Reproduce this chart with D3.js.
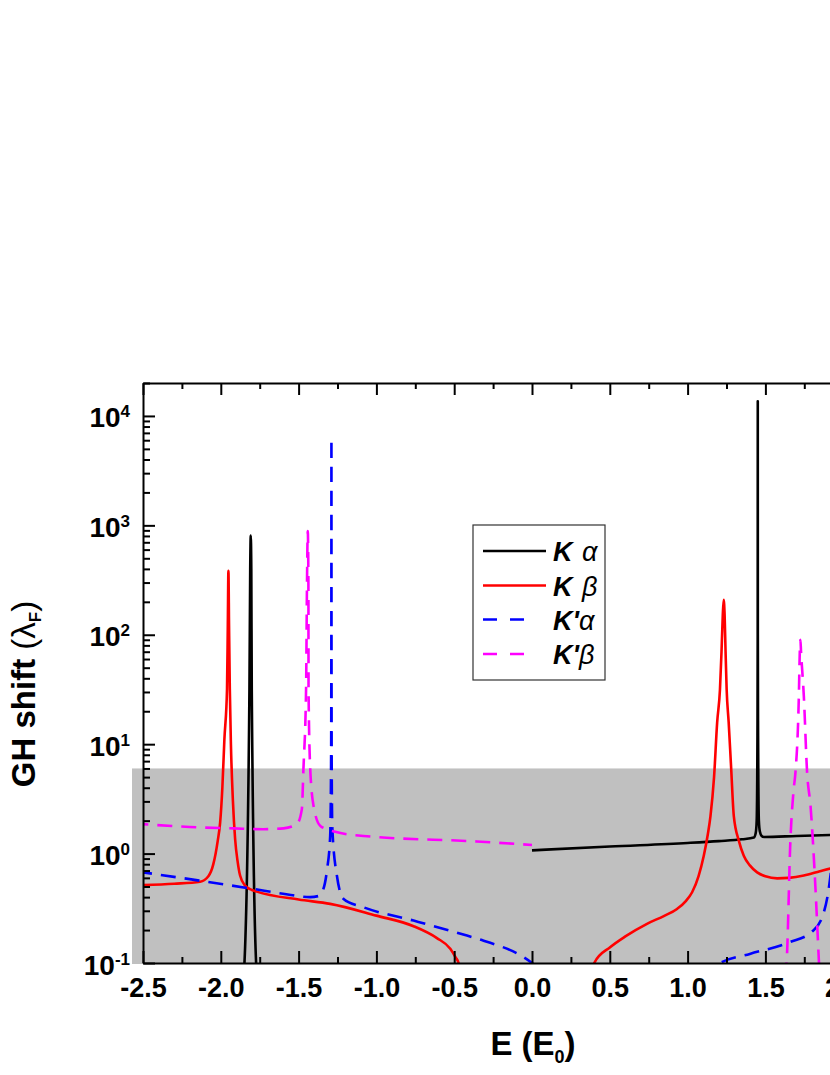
<!DOCTYPE html>
<html>
<head>
<meta charset="utf-8">
<script src="https://cdn.jsdelivr.net/npm/d3@7"></script>
<style>
	body { margin: 0; background: #fff; }
	svg { display: block; font-family: "Liberation Sans", Arial, sans-serif; }
</style>
</head>
<body>
<div id="chart"></div>
<script>
// GH shift vs energy. [E, shift], null = gap in the curve
const kAlpha = [
	[-1.852, 0.08], [-1.848, 0.1], [-1.816, 31.6], [-1.811, 400], [-1.8075, 805], [-1.804, 400], [-1.801, 31.6], [-1.773, 0.1], [-1.769, 0.08],
	null,
	[0, 1.07], [0.5, 1.16], [1.0, 1.25], [1.2, 1.3], [1.35, 1.35], [1.426, 1.4], [1.438, 1.55], [1.444, 2], [1.447, 4], [1.449, 12],
	[1.4505, 100], [1.451, 13600], [1.4515, 100], [1.453, 12], [1.455, 4], [1.458, 2], [1.464, 1.6], [1.476, 1.45], [1.49, 1.42],
	[1.7, 1.45], [1.92, 1.48], [2.1, 1.5]
];
const kBeta = [
	[-2.5, 0.515], [-2.3, 0.53], [-2.133, 0.553], [-2.08, 0.62], [-2.048, 0.8], [-2.02, 1.3], [-2.004, 1.94], [-1.99, 4], [-1.977, 11],
	[-1.96, 32], [-1.955, 120], [-1.951, 384], [-1.947, 120], [-1.942, 32], [-1.935, 10], [-1.922, 3], [-1.908, 1.36], [-1.892, 0.85],
	[-1.876, 0.63], [-1.844, 0.51], [-1.8, 0.465], [-1.769, 0.449], [-1.5, 0.38], [-1.297, 0.347], [-1.0, 0.271], [-0.761, 0.217],
	[-0.611, 0.169], [-0.525, 0.135], [-0.49, 0.112], [-0.472, 0.1], [-0.465, 0.09],
	null,
	[0.395, 0.095], [0.4, 0.1], [0.504, 0.14], [0.6, 0.175], [0.739, 0.228], [0.85, 0.27], [0.932, 0.312], [0.99, 0.37], [1.029, 0.443],
	[1.07, 0.62], [1.104, 0.955], [1.13, 1.5], [1.147, 2.2], [1.17, 5], [1.19, 15.8], [1.208, 31.6], [1.218, 70], [1.226, 150],
	[1.232, 209], [1.238, 150], [1.244, 70], [1.251, 31.6], [1.264, 15.8], [1.28, 6], [1.297, 2.2], [1.33, 1.3], [1.361, 0.955],
	[1.4, 0.78], [1.447, 0.674], [1.5, 0.62], [1.576, 0.594], [1.65, 0.6], [1.747, 0.63], [1.85, 0.69], [1.92, 0.733], [2.0, 0.78]
];
const kpAlpha = [
	[-2.5, 0.674], [-2.133, 0.565], [-1.79, 0.475], [-1.6, 0.43], [-1.426, 0.4], [-1.37, 0.41], [-1.35, 0.44], [-1.318, 0.7],
	[-1.297, 1.45], [-1.291, 7.9], [-1.2895, 100], [-1.289, 6220], [-1.2885, 100], [-1.287, 5], [-1.283, 1.67], [-1.254, 0.63],
	[-1.211, 0.385], [-1.083, 0.323], [-0.761, 0.244], [-0.418, 0.178], [-0.311, 0.16], [-0.054, 0.113], [0, 0.1], [0.02, 0.095],
	null,
	[1.205, 0.095], [1.211, 0.1], [1.4, 0.121], [1.657, 0.155], [1.8, 0.194], [1.865, 0.262], [1.907, 0.475], [1.925, 0.75], [1.95, 1.3]
];
const kpBeta = [
	[-2.5, 1.86], [-2.2, 1.75], [-1.919, 1.7], [-1.726, 1.67], [-1.597, 1.7], [-1.511, 1.86], [-1.479, 2.55], [-1.469, 5.9],
	[-1.452, 31.6], [-1.446, 300], [-1.441, 889], [-1.437, 300], [-1.436, 31.6], [-1.426, 6.3], [-1.404, 2.73], [-1.36, 1.79],
	[-1.265, 1.58], [-1.083, 1.45], [-0.354, 1.29], [0, 1.2],
	null,
	[1.633, 0.09], [1.636, 0.1], [1.661, 1.36], [1.682, 3.9], [1.693, 5.5], [1.715, 27.5], [1.721, 70], [1.725, 90], [1.729, 70],
	[1.747, 27.5], [1.768, 5.5], [1.79, 2.73], [1.822, 0.475], [1.843, 0.11], [1.846, 0.09]
];

// shaded band (GH shift below this value)
const bandTop = 6;

const xTicks = [-2.5, -2.0, -1.5, -1.0, -0.5, 0.0, 0.5, 1.0, 1.5, 2.0, 2.5];
const yExponents = [-1, 0, 1, 2, 3, 4];

const W = 830, H = 1075;
const pLeft = 143, pTop = 383, pRight = 921, pBottom = 963;
const DASH = 15, GAP = 9;

const svg = d3.select("#chart").append("svg")
	.attr("width", W)
	.attr("height", H);

const x = d3.scaleLinear().domain([-2.5, 2.5]).range([pLeft, pRight]);
const y = d3.scaleLog().domain([0.1, 20000]).range([pBottom, pTop]);

// grey band
svg.append("rect")
	.attr("x", pLeft - 11)
	.attr("y", y(bandTop))
	.attr("width", pRight - pLeft + 11)
	.attr("height", pBottom - y(bandTop) + 1)
	.attr("fill", "#c0c0c0");

svg.append("clipPath").attr("id", "clip")
	.append("rect")
	.attr("x", pLeft).attr("y", pTop)
	.attr("width", pRight - pLeft).attr("height", pBottom - pTop);

const series = [
	{ name: "K", greek: "α", prime: false, pts: kAlpha, color: "#000000", dashed: false },
	{ name: "K", greek: "β", prime: false, pts: kBeta, color: "#ff0000", dashed: false },
	{ name: "K'", greek: "α", prime: true, pts: kpAlpha, color: "#0000ff", dashed: true },
	{ name: "K'", greek: "β", prime: true, pts: kpBeta, color: "#ff00ff", dashed: true }
];

const line = d3.line()
	.x(d => x(d[0]))
	.y(d => y(d[1]))
	.curve(d3.curveMonotoneX);

// split each series at the nulls, one path per piece
function splitSegments(pts) {
	const out = [];
	let cur = [];
	pts.forEach(p => {
		if (p === null) { if (cur.length) out.push(cur); cur = []; }
		else cur.push(p);
	});
	if (cur.length) out.push(cur);
	return out;
}

const plotG = svg.append("g").attr("clip-path", "url(#clip)");
const measure = svg.append("path").attr("visibility", "hidden");

series.forEach(s => {
	splitSegments(s.pts).forEach(seg => {
		const p = plotG.append("path")
			.attr("d", line(seg))
			.attr("fill", "none")
			.attr("stroke", s.color)
			.attr("stroke-width", 2.6)
			.attr("stroke-linejoin", "round");
		if (s.dashed) {
			// centre a dash on the peak so both flanks of a thin spike share their dashes
			const iMax = d3.maxIndex(seg, d => d[1]);
			measure.attr("d", line(seg.slice(0, iMax + 1)));
			const T = measure.node().getTotalLength();
			const period = DASH + GAP;
			const off = (((DASH / 2 - T) % period) + period) % period;
			p.attr("stroke-dasharray", `${DASH},${GAP}`).attr("stroke-dashoffset", -off);
		}
	});
});
measure.remove();

// minor ticks
const xMinor = d3.range(-2.25, 2.5, 0.5);
const yMinor = [];
yExponents.forEach(e => {
	for (let k = 2; k <= 9; k++) {
		const v = k * Math.pow(10, e);
		if (v <= 20000) yMinor.push(v);
	}
});

function styleAxis(g) {
	g.selectAll("path.domain").attr("stroke", "#000").attr("stroke-width", 2);
	g.selectAll(".tick line").attr("stroke", "#000").attr("stroke-width", 2);
}

// bottom
svg.append("g")
	.attr("transform", `translate(0,${pBottom})`)
	.call(d3.axisBottom(x).tickValues(xMinor).tickSize(-6).tickFormat(""))
	.call(g => g.select(".domain").remove())
	.call(styleAxis);
svg.append("g")
	.attr("transform", `translate(0,${pBottom})`)
	.call(d3.axisBottom(x).tickValues(xTicks).tickSizeInner(-12).tickSizeOuter(0).tickPadding(15)
		.tickFormat(d => d.toFixed(1)))
	.call(styleAxis)
	.call(g => g.selectAll("text")
		.attr("fill", "#000")
		.style("font-size", "27px")
		.style("font-weight", "bold"));

// top
svg.append("g")
	.attr("transform", `translate(0,${pTop})`)
	.call(d3.axisTop(x).tickValues(xMinor).tickSize(-6).tickFormat(""))
	.call(g => g.select(".domain").remove())
	.call(styleAxis);
svg.append("g")
	.attr("transform", `translate(0,${pTop})`)
	.call(d3.axisTop(x).tickValues(xTicks).tickSizeInner(-12).tickSizeOuter(0).tickFormat(""))
	.call(styleAxis);

// left
svg.append("g")
	.attr("transform", `translate(${pLeft},0)`)
	.call(d3.axisLeft(y).tickValues(yMinor).tickSize(-7).tickFormat(""))
	.call(g => g.select(".domain").remove())
	.call(styleAxis);
const yAxis = svg.append("g")
	.attr("transform", `translate(${pLeft},0)`)
	.call(d3.axisLeft(y).tickValues(yExponents.map(e => Math.pow(10, e)))
		.tickSizeInner(-12).tickSizeOuter(0).tickFormat(""))
	.call(styleAxis);

yAxis.selectAll(".tick").each(function(d) {
	const t = d3.select(this).append("text")
		.attr("x", -13)
		.attr("y", 11)
		.attr("text-anchor", "end")
		.attr("fill", "#000")
		.style("font-size", "28px")
		.style("font-weight", "bold");
	t.append("tspan").text("10");
	t.append("tspan")
		.attr("dy", -10)
		.style("font-size", "17px")
		.text(String(Math.round(Math.log10(d))));
});

// axis titles
const xt = svg.append("text")
	.attr("x", 533)
	.attr("y", 1055)
	.attr("text-anchor", "middle")
	.style("font-size", "33px")
	.style("font-weight", "bold");
xt.append("tspan").text("E (E");
xt.append("tspan").attr("dy", 8).style("font-size", "18px").text("0");
xt.append("tspan").attr("dy", -8).text(")");

const yt = svg.append("text")
	.attr("transform", "translate(35,694) rotate(-90)")
	.attr("text-anchor", "middle")
	.style("font-size", "33px")
	.style("font-weight", "bold");
yt.append("tspan").text("GH shift ");
yt.append("tspan").style("font-weight", "normal").text("(λ");
yt.append("tspan").attr("dy", 6).style("font-size", "17px").text("F");
yt.append("tspan").attr("dy", -6).style("font-weight", "normal").text(")");

// legend
const legend = svg.append("g").attr("transform", "translate(473,525)");
legend.append("rect")
	.attr("width", 132)
	.attr("height", 155)
	.attr("fill", "#fff")
	.attr("stroke", "#333")
	.attr("stroke-width", 1.2);

const rowY = [26, 60.5, 94.5, 129];
series.forEach((s, i) => {
	const row = legend.append("g").attr("transform", `translate(0,${rowY[i]})`);
	row.append("line")
		.attr("x1", 10).attr("x2", s.dashed ? 51 : 73)
		.attr("stroke", s.color)
		.attr("stroke-width", 2.6)
		.attr("stroke-dasharray", s.dashed ? "14,13" : null);
	const t = row.append("text")
		.attr("x", 80)
		.attr("y", 10)
		.attr("fill", "#000")
		.style("font-size", "27px")
		.style("font-style", "italic");
	t.append("tspan").style("font-weight", "bold").text(s.name);
	t.append("tspan").attr("dx", s.prime ? 0 : 2).text((s.prime ? "" : " ") + s.greek);
});
</script>
</body>
</html>
